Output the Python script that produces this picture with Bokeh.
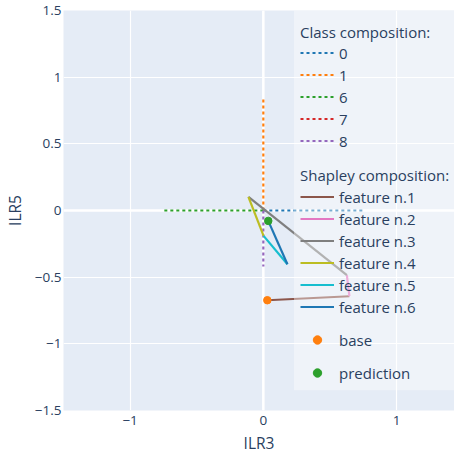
from bokeh.plotting import figure
from bokeh.models import Range1d, FixedTicker, Legend, LegendItem, BoxAnnotation, Span
from bokeh.embed import file_html
from bokeh.resources import INLINE

# ---------------- data ----------------
origin_x = 0.0
origin_y = 0.0

class_names = ["0", "1", "6", "7", "8"]
class_x = [0.745, 0.0, -0.745, 0.0, 0.0]
class_y = [0.0, 0.85, 0.0, 0.0, -0.42]
class_colors = ["#1f77b4", "#ff7f0e", "#2ca02c", "#d62728", "#9467bd"]

feature_names = ["feature n.1", "feature n.2", "feature n.3",
                 "feature n.4", "feature n.5", "feature n.6"]
# cumulative Shapley path: base -> after each feature (last point = prediction)
path_x = [0.03, 0.646, 0.627, -0.112, 0.002, 0.181, 0.037]
path_y = [-0.673, -0.643, -0.485, 0.102, -0.19, -0.403, -0.078]
feature_colors = ["#8c564b", "#e377c2", "#7f7f7f", "#bcbd22", "#17becf", "#1f77b4"]

x_ticks = [-1, 0, 1]
x_tick_labels = ["\u22121", "0", "1"]
y_ticks = [-1.5, -1, -0.5, 0, 0.5, 1, 1.5]
y_tick_labels = ["\u22121.5", "\u22121", "\u22120.5", "0", "0.5", "1", "1.5"]

# ---------------- style ----------------
FONT = "Open Sans"
TXT = "#2a3f5f"
BG = "#E5ECF6"

p = figure(width=454, height=457,
           x_range=Range1d(-1.5, 1.435), y_range=Range1d(-1.5, 1.5),
           output_backend="svg", toolbar_location=None,
           min_border_left=61, min_border_right=0,
           min_border_top=10, min_border_bottom=47,
           background_fill_color=BG, border_fill_color="white",
           outline_line_color=None)

for ax, ticks, labels, title in ((p.xaxis, x_ticks, x_tick_labels, "ILR3"),
                                 (p.yaxis, y_ticks, y_tick_labels, "ILR5")):
    ax.ticker = FixedTicker(ticks=ticks)
    ax.major_label_overrides = {float(t): l for t, l in zip(ticks, labels)}
    ax.axis_label = title
    ax.axis_line_color = None
    ax.major_tick_line_color = None
    ax.minor_tick_line_color = None
    ax.major_tick_out = 0
    ax.major_tick_in = 0
    ax.major_label_text_font = FONT
    ax.major_label_text_font_size = "13.5px"
    ax.major_label_text_color = TXT
    ax.axis_label_text_font = FONT
    ax.axis_label_text_font_size = "15.5px"
    ax.axis_label_text_font_style = "normal"
    ax.axis_label_text_color = TXT

p.xaxis.major_label_standoff = 5
p.xaxis.axis_label_standoff = 4
p.yaxis.major_label_standoff = 2
p.yaxis.axis_label_standoff = 6

for g in (p.xgrid, p.ygrid):
    g.grid_line_color = "white"
    g.grid_line_width = 1.2

p.add_layout(Span(location=0, dimension="height", line_color="white",
                  line_width=2.5, level="underlay"))
p.add_layout(Span(location=0, dimension="width", line_color="white",
                  line_width=2.5, level="underlay"))

# class composition (dotted, from origin)
class_renderers = []
for name, cx, cy, col in zip(class_names, class_x, class_y, class_colors):
    r = p.line([origin_x, cx], [origin_y, cy], line_color=col, line_width=2.2,
               line_dash="3 3")
    class_renderers.append(r)

# shapley composition path
feature_renderers = []
for i, (name, col) in enumerate(zip(feature_names, feature_colors)):
    r = p.line(path_x[i:i + 2], path_y[i:i + 2], line_color=col, line_width=2.2)
    feature_renderers.append(r)

r_base = p.scatter([path_x[0]], [path_y[0]], size=7.5, color="#ff7f0e")
r_pred = p.scatter([path_x[-1]], [path_y[-1]], size=7.5, color="#2ca02c")

# legend background box (layout constants)
p.add_layout(BoxAnnotation(left=0.23, bottom=-1.348, fill_color="white",
                           fill_alpha=0.4, line_color=None))


def make_legend(items, title, loc, spacing, title_standoff=0):
    lg = Legend(items=items, location=loc, title=title,
                padding=0, margin=0, spacing=spacing,
                glyph_width=34, glyph_height=21, label_height=21,
                label_standoff=5,
                border_line_alpha=0, background_fill_alpha=0,
                label_text_font=FONT, label_text_font_size="15px",
                label_text_color=TXT,
                title_text_font=FONT, title_text_font_size="15px",
                title_text_color=TXT, title_text_font_style="normal",
                title_standoff=title_standoff)
    return lg


leg_a = make_legend([LegendItem(label=n, renderers=[r])
                     for n, r in zip(class_names, class_renderers)],
                    "Class composition:", (237, 259), 1, 0)
leg_b = make_legend([LegendItem(label=n, renderers=[r])
                     for n, r in zip(feature_names, feature_renderers)],
                    "Shapley composition:", (237, 93), 1, 1)
leg_c = make_legend([LegendItem(label="base", renderers=[r_base]),
                     LegendItem(label="prediction", renderers=[r_pred])],
                    None, (237, 27), 12)
for lg in (leg_a, leg_b, leg_c):
    p.add_layout(lg, "center")

open("out.html", "w").write(file_html(p, INLINE))
